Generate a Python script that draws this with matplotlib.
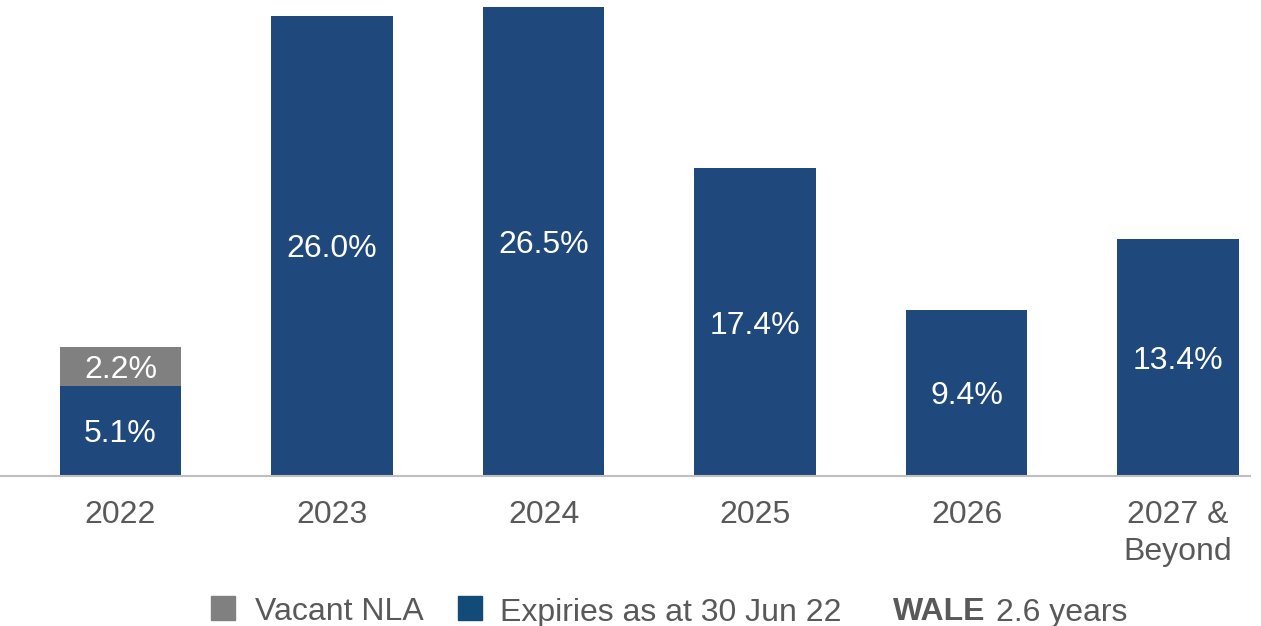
import matplotlib
matplotlib.use('Agg')
import matplotlib.pyplot as plt
from matplotlib.patches import Rectangle

# data
categories = ['2022', '2023', '2024', '2025', '2026', '2027 &\nBeyond']
expiries = [5.1, 26.0, 26.5, 17.4, 9.4, 13.4]
vacant = [2.2, 0, 0, 0, 0, 0]

BLUE = '#1F497D'
GREY = '#808080'
TEXT = '#595959'
FS = 23

plt.rcParams['font.family'] = ['Liberation Sans', 'DejaVu Sans']

fig = plt.figure(figsize=(12.61, 6.26), dpi=100)
ax = fig.add_axes([0.0, 1 - 476 / 626, 1250 / 1261, 476 / 626])

x = list(range(len(categories)))
ax.bar(x, expiries, width=0.573, color=BLUE)
ax.bar(x, vacant, width=0.573, bottom=expiries, color=GREY)

for i, v in enumerate(expiries):
    ax.text(i, v / 2, f'{v:.1f}%', ha='center', va='center_baseline', color='white', fontsize=FS)
for i, v in enumerate(vacant):
    if v > 0:
        ax.text(i, expiries[i] + v / 2, f'{v:.1f}%', ha='center', va='center_baseline',
                color='white', fontsize=FS)

ax.set_xlim(-0.57, 5.34)
ax.set_ylim(0, 26.9)
ax.set_yticks([])
ax.set_xticks(x)
ax.set_xticklabels(categories, fontsize=FS, color=TEXT, linespacing=1.34, va='top')
ax.tick_params(axis='x', length=0, pad=17)
for s in ['top', 'right', 'left']:
    ax.spines[s].set_visible(False)
ax.spines['bottom'].set_color('#BFBFBF')
ax.spines['bottom'].set_linewidth(1.5)

# legend row
W, H = 1261, 626
def square(px, color):
    fig.patches.append(Rectangle((px / W, 1 - 620 / H), 24 / W, 24 / H,
                                 transform=fig.transFigure, color=color))
square(211, GREY)
square(458, '#124B78')
ty = 1 - 609 / H
fig.text(255 / W, ty, 'Vacant NLA', fontsize=FS, color=TEXT, va='center_baseline')
fig.text(500 / W, ty, 'Expiries as at 30 Jun 22', fontsize=FS, color=TEXT, va='center_baseline')
fig.text(893 / W, ty, 'WALE', fontsize=FS, color=TEXT, va='center_baseline', fontweight='bold')
fig.text(1127 / W, ty, '2.6 years', fontsize=FS, color=TEXT, va='center_baseline', ha='right')

fig.savefig('out.png', dpi=100)
